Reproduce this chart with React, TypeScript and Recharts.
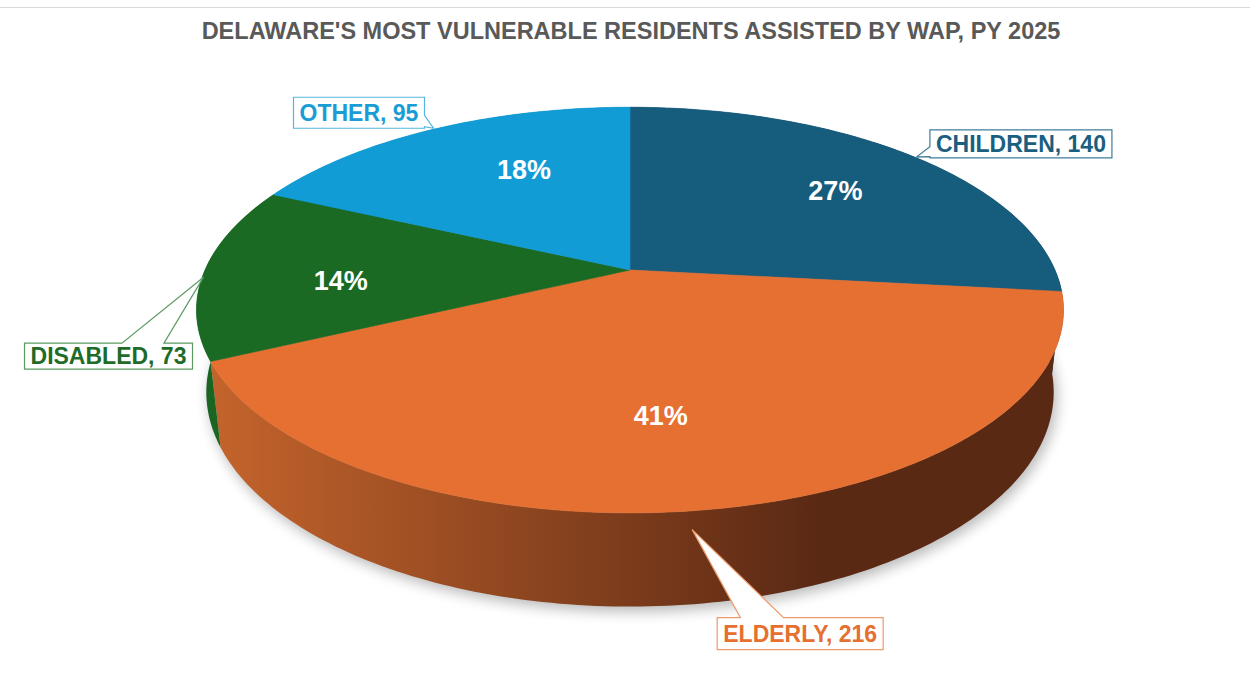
import React from 'react';
import { Pie, PieChart } from 'recharts';

const categories = ['CHILDREN', 'ELDERLY', 'DISABLED', 'OTHER'];
const residents = [140, 216, 73, 95];

const topColors = ['#165C7D', '#E67032', '#1B6A24', '#129CD6'];
const sideColors = [
  ['#134F6B', '#0B3447'],
  ['#C4642C', '#5A2914'],
  ['#1B6523', '#145019'],
  ['#0F86B8', '#0A5E80'],
];
const textColors = ['#1A5E80', '#E5702F', '#1F6B28', '#1A9DD6'];
const borderColors = ['#3F7C9B', '#EE9A6A', '#5D9A62', '#53B6E0'];

const title = "DELAWARE'S MOST VULNERABLE RESIDENTS ASSISTED BY WAP, PY 2025";

const data = categories.map((name, i) => ({ name, value: residents[i] }));

// fake 3D: tilted disk seen in perspective
const DIST = 4.5;
const TILT = (27.3 * Math.PI) / 180;
const SIN = Math.sin(TILT);
const COS = Math.cos(TILT);
const DEPTH = 0.219;
const FONT = '"Liberation Sans", Arial, sans-serif';

// callout box placement relative to the rim point at the slice's mid angle,
// plus a small nudge for the percentage text
const callouts: Record<string, any> = {
  CHILDREN: { dx: 111.5, dy: -11, w: 182, h: 28, edge: 'left', b1: 0.05, b2: 0.4, tipDx: 7, tipDy: 2, pdx: 8, pdy: 2 },
  ELDERLY: { dx: 82, dy: 125, w: 166, h: 32, edge: 'top', b1: 0.14, b2: 0.4, tipDx: -26, tipDy: 21, pdx: -25, pdy: -5 },
  DISABLED: { dx: -96, dy: 85, w: 168, h: 26, edge: 'top', b1: 0.58, b2: 0.83, tipDx: -1, tipDy: 6, pdx: 0, pdy: 10 },
  OTHER: { dx: -74.5, dy: -16.5, w: 131, h: 31, edge: 'right', b1: 0.58, b2: 0.95, tipDx: 0, tipDy: -1, pdx: 34, pdy: 0 },
};

function proj(cx: number, cy: number, R: number, phiDeg: number, r: number, z: number) {
  const phi = (phiDeg * Math.PI) / 180;
  const X = r * Math.sin(phi);
  const Y = r * Math.cos(phi);
  const d = DIST + Y * COS - z * SIN;
  return [cx + (R * DIST * X) / d, cy - (R * DIST * (Y * SIN + z * COS)) / d];
}

function arcPoints(cx: number, cy: number, R: number, p0: number, p1: number, z: number) {
  const n = Math.max(2, Math.ceil(Math.abs(p1 - p0)));
  const pts = [];
  for (let k = 0; k <= n; k++) {
    pts.push(proj(cx, cy, R, p0 + ((p1 - p0) * k) / n, 1, z));
  }
  return pts;
}

const toPath = (pts: number[][]) =>
  'M' + pts.map((p) => `${p[0].toFixed(2)},${p[1].toFixed(2)}`).join('L') + 'Z';

const nameOf = (props: any) => props.name ?? props.payload?.name;

function SideShape(props: any) {
  const { cx, cy, outerRadius, startAngle, endAngle } = props;
  const i = categories.indexOf(nameOf(props));
  const p0 = 90 - startAngle;
  const p1 = 90 - endAngle;
  const top = arcPoints(cx, cy, outerRadius, p0, p1, 0);
  const bottom = arcPoints(cx, cy, outerRadius, p0, p1, -DEPTH).reverse();
  return (
    <g>
      {i === 0 && (
        <>
          <defs>
            {sideColors.map((c, k) => (
              <linearGradient
                key={k}
                id={`side-${k}`}
                gradientUnits="userSpaceOnUse"
                x1={cx - 420}
                y1={0}
                x2={cx + 190}
                y2={0}
              >
                <stop offset="0%" stopColor={c[0]} />
                <stop offset="100%" stopColor={c[1]} />
              </linearGradient>
            ))}
            <filter id="pieShadow" x="-20%" y="-20%" width="140%" height="140%">
              <feGaussianBlur stdDeviation="7" />
            </filter>
          </defs>
          <path
            d={toPath(arcPoints(cx, cy, outerRadius, 0, 360, -DEPTH))}
            transform="translate(3,5)"
            fill="#000"
            opacity={0.28}
            filter="url(#pieShadow)"
          />
        </>
      )}
      <path d={toPath([...top, ...bottom])} fill={`url(#side-${i})`} />
    </g>
  );
}

function TopShape(props: any) {
  const { cx, cy, outerRadius, startAngle, endAngle } = props;
  const i = categories.indexOf(nameOf(props));
  const rim = arcPoints(cx, cy, outerRadius, 90 - startAngle, 90 - endAngle, 0);
  return (
    <path
      d={toPath([[cx, cy], ...rim])}
      fill={topColors[i]}
      stroke={topColors[i]}
      strokeWidth={0.6}
    />
  );
}

function calloutPath(x: number, y: number, w: number, h: number, c: any, tx: number, ty: number) {
  const pts: number[][] = [[x, y]];
  if (c.edge === 'top') pts.push([x + w * c.b1, y], [tx, ty], [x + w * c.b2, y]);
  pts.push([x + w, y]);
  if (c.edge === 'right') pts.push([x + w, y + h * c.b1], [tx, ty], [x + w, y + h * c.b2]);
  pts.push([x + w, y + h]);
  pts.push([x, y + h]);
  if (c.edge === 'left') pts.push([x, y + h - h * c.b1], [tx, ty], [x, y + h - h * c.b2]);
  return toPath(pts);
}

function renderLabel(props: any) {
  const { cx, cy, outerRadius, midAngle, percent, value } = props;
  const name = nameOf(props);
  const i = categories.indexOf(name);
  const phi = 90 - midAngle;
  const c = callouts[name];
  const [px, py] = proj(cx, cy, outerRadius, phi, 0.68, 0);
  const [ax, ay] = proj(cx, cy, outerRadius, phi, 1, 0);
  const bx = ax + c.dx - c.w / 2;
  const by = ay + c.dy - c.h / 2;
  return (
    <g key={`lbl-${name}`}>
      <text
        x={px + c.pdx}
        y={py + c.pdy + 27 * 0.358}
        textAnchor="middle"
        fill="#fff"
        fontFamily={FONT}
        fontWeight="bold"
        fontSize={27}
      >
        {`${Math.round(percent * 100)}%`}
      </text>
      <path
        d={calloutPath(bx, by, c.w, c.h, c, ax + c.tipDx, ay + c.tipDy)}
        fill="#fff"
        stroke={borderColors[i]}
        strokeWidth={1.2}
      />
      <text
        x={bx + c.w / 2}
        y={by + c.h / 2 + 23 * 0.358}
        textAnchor="middle"
        fill={textColors[i]}
        fontFamily={FONT}
        fontWeight="bold"
        fontSize={23}
      >
        {`${name}, ${value}`}
      </text>
    </g>
  );
}

export default function App() {
  return (
    <div
      style={{
        position: 'absolute',
        left: 0,
        top: 0,
        width: 1250,
        height: 690,
        background: '#fff',
      }}
    >
      <PieChart width={1250} height={690} margin={{ top: 0, right: 0, bottom: 0, left: 0 }}>
        <Pie
          data={data}
          dataKey="value"
          nameKey="name"
          cx={630}
          cy={270}
          outerRadius={425}
          startAngle={90}
          endAngle={-270}
          stroke="none"
          label={false}
          labelLine={false}
          isAnimationActive={false}
          shape={SideShape}
          activeShape={SideShape}
          inactiveShape={SideShape}
        />
        <Pie
          data={data}
          dataKey="value"
          nameKey="name"
          cx={630}
          cy={270}
          outerRadius={425}
          startAngle={90}
          endAngle={-270}
          stroke="none"
          label={renderLabel}
          labelLine={false}
          isAnimationActive={false}
          shape={TopShape}
          activeShape={TopShape}
          inactiveShape={TopShape}
        />
      </PieChart>
      <svg
        width={1250}
        height={60}
        style={{ position: 'absolute', left: 0, top: 0, pointerEvents: 'none' }}
      >
        <line x1={0} y1={7.5} x2={1250} y2={7.5} stroke="#D9D9D9" strokeWidth={1} />
        <text
          x={631}
          y={39}
          textAnchor="middle"
          fill="#595959"
          fontFamily={FONT}
          fontWeight="bold"
          fontSize={23.5}
        >
          {title}
        </text>
      </svg>
    </div>
  );
}
